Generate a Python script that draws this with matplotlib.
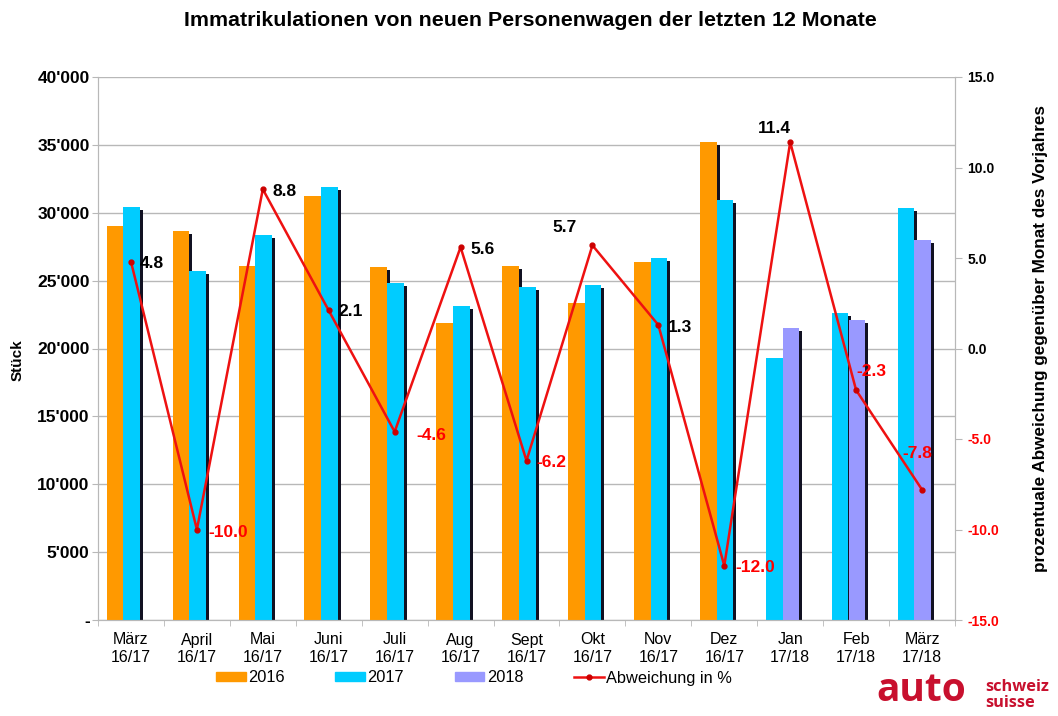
import numpy as np
import matplotlib.pyplot as plt
from matplotlib.patches import Patch
from matplotlib.lines import Line2D
from matplotlib.ticker import FuncFormatter, MultipleLocator

plt.rcParams['font.family'] = ['Liberation Sans', 'DejaVu Sans']

# Data
months = ['März\n16/17', 'April\n16/17', 'Mai\n16/17', 'Juni\n16/17', 'Juli\n16/17',
          'Aug\n16/17', 'Sept\n16/17', 'Okt\n16/17', 'Nov\n16/17', 'Dez\n16/17',
          'Jan\n17/18', 'Feb\n17/18', 'März\n17/18']
pkw_2016 = [29020, 28650, 26080, 31230, 26030, 21860, 26100, 23330, 26400, 35180,
            np.nan, np.nan, np.nan]
pkw_2017 = [30450, 25730, 28360, 31870, 24800, 23130, 24510, 24650, 26690, 30940,
            19330, 22650, 30370]
pkw_2018 = [np.nan] * 10 + [21530, 22120, 28020]
abweichung = [4.8, -10.0, 8.8, 2.1, -4.6, 5.6, -6.2, 5.7, 1.3, -12.0, 11.4, -2.3, -7.8]

# label offsets in pixels (dx, dy, ha) for the percentage labels
label_pos = [(9, -2, 'left'), (11, -3, 'left'), (10, -2, 'left'), (10, -1, 'left'),
             (22, -4, 'left'), (10, -2, 'left'), (10, -2, 'left'), (-28, 18, 'center'),
             (10, -3, 'left'), (11, -2, 'left'), (-16, 14, 'center'), (0, 19, 'left'),
             (-5, 36, 'center')]

c2016, c2017, c2018 = '#FF9900', '#00CCFF', '#9999FF'
red = '#EE1111'
grid_c = '#B8B8B8'

fig = plt.figure(figsize=(10.58, 7.16), dpi=100)
ax = fig.add_axes([98 / 1058, 1 - 620 / 716, 857 / 1058, 543 / 716])

x = np.arange(len(months))
w = 0.2525
off1, off2 = -0.242, 0.011
shadow_w = 0.045
shadow_drop = 220

a16 = np.array(pkw_2016, dtype=float)
a17 = np.array(pkw_2017, dtype=float)
a18 = np.array(pkw_2018, dtype=float)
# 2017 sits in the first slot when there is no 2016 value
pos17 = np.where(np.isnan(a16), x + off1, x + off2)

series = [(x + off1, a16, c2016), (pos17, a17, c2017), (x + off2, a18, c2018)]
for pos, vals, col in series:
    ax.bar(pos + w / 2 + shadow_w / 2, vals - shadow_drop, width=shadow_w,
           color='#111122', zorder=2)
for pos, vals, col in series:
    ax.bar(pos, vals, width=w, color=col, zorder=3)

ax.set_xlim(-0.5, len(months) - 0.5)
ax.set_ylim(0, 40000)
ax.yaxis.set_major_locator(MultipleLocator(5000))
ax.yaxis.set_major_formatter(FuncFormatter(
    lambda v, p: '-' if v == 0 else f"{int(v):,}".replace(',', "'")))
ax.grid(axis='y', color=grid_c, linewidth=1)
ax.set_axisbelow(True)

ax.set_xticks(x)
ax.set_xticklabels(months, fontsize=11.5, linespacing=1.25)
ax.set_xticks(np.arange(-0.5, len(months)), minor=True)
ax.tick_params(axis='x', which='major', length=0, pad=9)
ax.tick_params(axis='x', which='minor', length=4, color=grid_c)
ax.tick_params(axis='y', length=4, color=grid_c, labelsize=12.5, pad=2)
for t in ax.get_yticklabels():
    t.set_fontweight('bold')

for s in ['top']:
    ax.spines[s].set_visible(False)
for s in ['left', 'bottom', 'right']:
    ax.spines[s].set_color(grid_c)

ax2 = ax.twinx()
ax2.plot(x, abweichung, color=red, linewidth=1.8, marker='o', markersize=3.5,
         markerfacecolor='#CC0000', markeredgecolor='#CC0000', zorder=5)
ax2.set_ylim(-15, 15)
ax2.yaxis.set_major_locator(MultipleLocator(5))
ax2.yaxis.set_major_formatter(FuncFormatter(lambda v, p: f"{v:.1f}"))
ax2.tick_params(axis='y', length=5, color=grid_c, labelsize=10, pad=4)
for t, v in zip(ax2.get_yticklabels(), ax2.get_yticks()):
    t.set_fontweight('bold')
    if v < 0:
        t.set_color('#FF0000')
for s in ['top']:
    ax2.spines[s].set_visible(False)
for s in ['left', 'bottom', 'right']:
    ax2.spines[s].set_color(grid_c)

for xi, v, (dx, dy, ha) in zip(x, abweichung, label_pos):
    ax2.annotate(f"{v:.1f}", xy=(xi, v), xytext=(dx, dy), textcoords='offset pixels',
                 ha=ha, va='center', fontsize=12.5, fontweight='bold',
                 color='#FF0000' if v < 0 else 'black', zorder=6)

fig.text(530 / 1058, 1 - 20 / 716,
         'Immatrikulationen von neuen Personenwagen der letzten 12 Monate',
         ha='center', va='center', fontsize=15.4, fontweight='bold')
fig.text(18 / 1058, 1 - 360 / 716, 'Stück', rotation=90, ha='center', va='center',
         fontsize=11, fontweight='bold')
fig.text(1040 / 1058, 1 - 338 / 716,
         'prozentuale Abweichung gegenüber Monat des Vorjahres',
         rotation=90, ha='center', va='center', fontsize=12.3, fontweight='bold')

handles = [Patch(color=c2016), Patch(color=c2017), Patch(color=c2018),
           Line2D([0], [0], color=red, linewidth=1.8, marker='o', markersize=3.5,
                  markerfacecolor='#CC0000', markeredgecolor='#CC0000')]
fig.legend(handles, ['2016', '2017', '2018', 'Abweichung in %'], loc='center',
           bbox_to_anchor=(474 / 1058, 1 - 678 / 716), ncol=4, frameon=False,
           fontsize=11.8, handlelength=1.8, handleheight=0.5, handletextpad=0.15,
           columnspacing=3.1)

# logo text
logo_c = '#C8102E'
fig.text(876 / 1058, 1 - 701 / 716, 'auto', fontsize=28, fontweight='bold',
         color=logo_c, family='Open Sans', va='baseline', ha='left')
fig.text(985 / 1058, 1 - 691 / 716, 'schweiz', fontsize=11.8, fontweight='bold',
         color=logo_c, family='Open Sans', va='baseline', ha='left')
fig.text(985 / 1058, 1 - 707 / 716, 'suisse', fontsize=11.8, fontweight='bold',
         color=logo_c, family='Open Sans', va='baseline', ha='left')

fig.savefig('out.png', dpi=100)
